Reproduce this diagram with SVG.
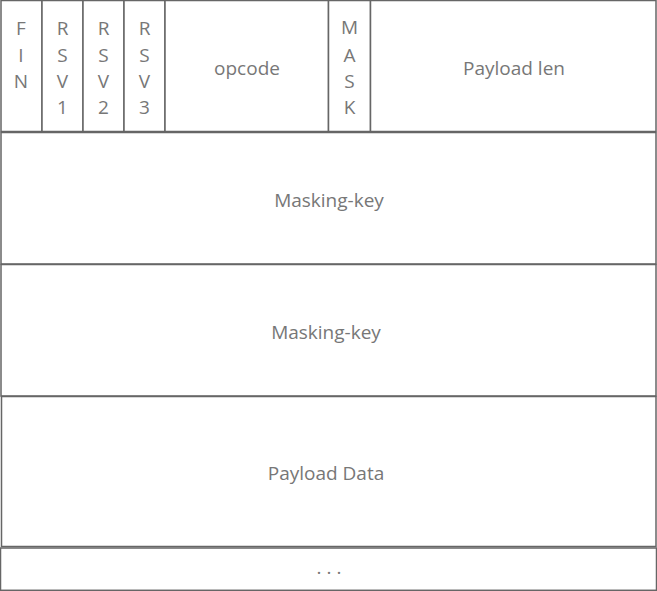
<svg xmlns="http://www.w3.org/2000/svg" width="657" height="591" viewBox="0 0 657 591">
<style>
rect{fill:#fff;stroke:#666;stroke-width:1.5}
text{font-family:"Open Sans","Noto Sans","Liberation Sans",sans-serif;font-size:19px;fill:#777;text-anchor:middle}
</style>
<rect x="0" y="0" width="657" height="591" style="stroke:none"/>
<g id="fin"><rect x="1" y="0.5" width="41" height="131"/><text x="21" y="35">F</text><text x="21" y="61.7">I</text><text x="21" y="88.3">N</text></g>
<g id="rsv1"><rect x="42" y="0.5" width="41" height="131"/><text x="62.5" y="35">R</text><text x="62.5" y="61.7">S</text><text x="62.5" y="88.3">V</text><text x="62.5" y="114.3">1</text></g>
<g id="rsv2"><rect x="83" y="0.5" width="41" height="131"/><text x="103.5" y="35">R</text><text x="103.5" y="61.7">S</text><text x="103.5" y="88.3">V</text><text x="103.5" y="114.3">2</text></g>
<g id="rsv3"><rect x="124" y="0.5" width="41" height="131"/><text x="144.5" y="35">R</text><text x="144.5" y="61.7">S</text><text x="144.5" y="88.3">V</text><text x="144.5" y="114.3">3</text></g>
<g id="opcode"><rect x="165" y="0.5" width="163.5" height="131"/><text x="247" y="74.5">opcode</text></g>
<g id="mask"><rect x="328.5" y="0.5" width="42" height="131"/><text x="349.5" y="34.3">M</text><text x="349.5" y="61.7">A</text><text x="349.5" y="88.3">S</text><text x="349.5" y="114.3">K</text></g>
<g id="payload-len"><rect x="370.5" y="0.5" width="285.5" height="131"/><text x="514" y="74.5">Payload len</text></g>
<g id="masking-key-1"><rect x="1" y="132.5" width="655" height="131.5"/><text x="329" y="206.5">Masking-key</text></g>
<g id="masking-key-2"><rect x="1" y="264.5" width="655" height="131.5"/><text x="326" y="338.5">Masking-key</text></g>
<g id="payload-data"><rect x="1.5" y="396.5" width="654.5" height="150"/><text x="326" y="479.5">Payload Data</text></g>
<g id="more"><rect x="0.5" y="548" width="656" height="42.3"/><text x="329" y="573.5">. . .</text></g>
<g id="connectors"></g>
</svg>
